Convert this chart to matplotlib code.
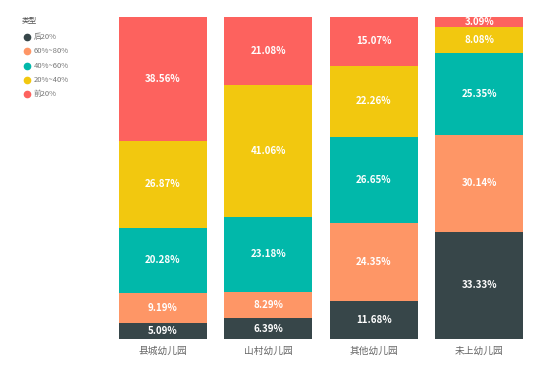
import matplotlib.pyplot as plt
from matplotlib.lines import Line2D
import numpy as np

plt.rcParams['font.family'] = ['Noto Sans CJK SC', 'DejaVu Sans']

categories = ["县城幼儿园", "山村幼儿园", "其他幼儿园", "未上幼儿园"]
series_names = ["后20%", "60%~80%", "40%~60%", "20%~40%", "前20%"]
colors = ["#374649", "#FE9666", "#01B8AA", "#F2C80F", "#FD625E"]

bottom20 = [5.09, 6.39, 11.68, 33.33]
p60_80 = [9.19, 8.29, 24.35, 30.14]
p40_60 = [20.28, 23.18, 26.65, 25.35]
p20_40 = [26.87, 41.06, 22.26, 8.08]
top20 = [38.56, 21.08, 15.07, 3.09]

series = [bottom20, p60_80, p40_60, p20_40, top20]

fig = plt.figure(figsize=(5.49, 3.72), dpi=100)
ax = fig.add_axes([110 / 549, 1 - 339 / 372, 422 / 549, 322 / 372])

x = np.arange(len(categories))
base = np.zeros(len(categories))
for vals, c in zip(series, colors):
    vals = np.array(vals)
    ax.bar(x, vals, width=0.835, bottom=base, color=c)
    for xi, b, v in zip(x, base, vals):
        ax.text(xi, b + v / 2, f"{v:.2f}%", ha="center", va="center",
                color="white", fontsize=7, fontweight="bold")
    base = base + vals

ax.set_xlim(-0.5, 3.5)
ax.set_ylim(0, base.max())
ax.set_xticks(x)
ax.set_xticklabels(categories, fontsize=7, color="#666666")
ax.tick_params(axis="x", length=0, pad=5)
ax.set_yticks([])
for s in ax.spines.values():
    s.set_visible(False)

# legend
fig.text(22 / 549, 1 - 20 / 372, "类型", fontsize=5.5, color="#555555", va="center")
for i, (name, c) in enumerate(zip(series_names, colors)):
    yy = 1 - (37 + i * 14.3) / 372
    fig.add_artist(Line2D([27 / 549], [yy], marker="o", markersize=4.5,
                          color=c, transform=fig.transFigure))
    fig.text(34 / 549, yy, name, fontsize=5.5, color="#777777", va="center")

fig.savefig("out.png", dpi=100)
